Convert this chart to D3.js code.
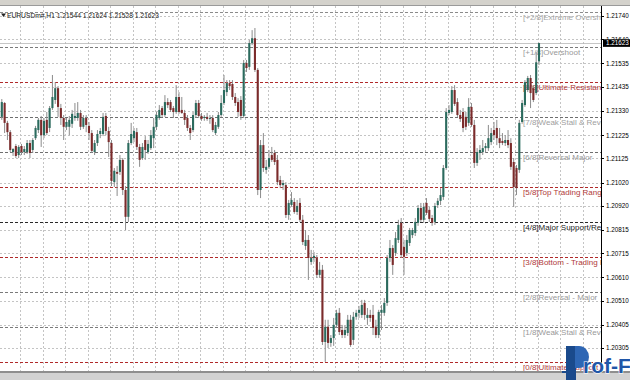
<!DOCTYPE html>
<html><head><meta charset="utf-8">
<script src="https://cdn.jsdelivr.net/npm/d3@7"></script>
<style>body{margin:0;background:#fff;overflow:hidden}svg{display:block}</style>
</head><body>
<svg id="c" width="630" height="380"></svg>
<script>
// ---------- DATA ----------
const symbolTitle = "EURUSDm#,H1";
const lastOHLC = [1.21544, 1.21624, 1.21528, 1.21623];
const bidPrice = 1.21623;

const opens = [
1.21304,1.21364,1.21278,1.21238,1.21152,1.21178,1.21139,1.21178,1.21152,1.21152,
1.21191,1.21161,1.21212,1.21247,1.21291,1.21225,1.21291,1.21256,1.21342,1.21377,
1.21428,1.21342,1.21299,1.21261,1.21261,1.21274,1.21299,1.21299,1.21321,1.21261,
1.21299,1.21265,1.21234,1.21152,1.21191,1.21230,1.21230,1.21308,1.21243,1.21191,
1.21022,1.21066,1.21066,1.21118,1.20988,1.20872,1.21191,1.21212,1.21238,1.21174,
1.21126,1.21204,1.21152,1.21169,1.21212,1.21261,1.21299,1.21342,1.21312,1.21368,
1.21368,1.21342,1.21325,1.21390,1.21334,1.21321,1.21299,1.21256,1.21247,1.21312,
1.21364,1.21308,1.21299,1.21304,1.21295,1.21299,1.21234,1.21261,1.21312,1.21364,
1.21411,1.21450,1.21446,1.21390,1.21368,1.21377,1.21308,1.21537,1.21520,1.21623,
1.21644,1.21507,1.20988,1.21182,1.21075,1.21088,1.21139,1.21148,1.21118,1.21031,
1.21009,1.21009,1.20880,1.20923,1.20936,1.20893,1.20932,1.20859,1.20746,1.20772,
1.20677,1.20694,1.20694,1.20621,1.20643,1.20331,1.20397,1.20327,1.20348,1.20405,
1.20457,1.20383,1.20361,1.20370,1.20427,1.20340,1.20440,1.20457,1.20448,1.20500,
1.20435,1.20448,1.20448,1.20397,1.20361,1.20457,1.20457,1.20500,1.20694,1.20737,
1.20716,1.20772,1.20846,1.20742,1.20716,1.20759,1.20793,1.20802,1.20846,1.20910,
1.20859,1.20932,1.20902,1.20867,1.20850,1.20923,1.20941,1.20958,1.21083,1.21321,
1.21325,1.21420,1.21368,1.21312,1.21325,1.21304,1.21278,1.21347,1.21269,1.21105,
1.21148,1.21152,1.21169,1.21169,1.21195,1.21247,1.21256,1.21212,1.21200,1.21191,
1.21204,1.21191,1.21109,1.21083,1.21075,1.21282,1.21355,1.21420,1.21472,1.21428,
1.21407,1.21544];
const highs = [
1.21381,1.21368,1.21287,1.21247,1.21169,1.21187,1.21182,1.21187,1.21178,1.21204,
1.21204,1.21212,1.21265,1.21299,1.21308,1.21299,1.21325,1.21351,1.21485,1.21454,
1.21437,1.21360,1.21312,1.21299,1.21308,1.21334,1.21364,1.21368,1.21334,1.21312,
1.21312,1.21282,1.21247,1.21204,1.21247,1.21256,1.21321,1.21321,1.21261,1.21204,
1.21083,1.21092,1.21139,1.21126,1.21005,1.21204,1.21278,1.21256,1.21256,1.21187,
1.21191,1.21221,1.21204,1.21247,1.21299,1.21325,1.21355,1.21351,1.21398,1.21385,
1.21377,1.21351,1.21441,1.21411,1.21390,1.21334,1.21312,1.21269,1.21325,1.21377,
1.21377,1.21321,1.21312,1.21321,1.21312,1.21312,1.21282,1.21325,1.21398,1.21485,
1.21463,1.21463,1.21463,1.21407,1.21385,1.21394,1.21550,1.21550,1.21636,1.21679,
1.21688,1.21515,1.21204,1.21234,1.21118,1.21161,1.21174,1.21161,1.21139,1.21049,
1.21031,1.21022,1.20945,1.20979,1.20953,1.20945,1.20953,1.20880,1.20815,1.20793,
1.20729,1.20720,1.20707,1.20677,1.20664,1.20427,1.20427,1.20361,1.20435,1.20470,
1.20478,1.20405,1.20401,1.20448,1.20448,1.20461,1.20470,1.20487,1.20513,1.20513,
1.20478,1.20470,1.20491,1.20427,1.20470,1.20491,1.20521,1.20707,1.20772,1.20750,
1.20806,1.20859,1.20867,1.20772,1.20793,1.20824,1.20824,1.20867,1.20923,1.20932,
1.20932,1.20953,1.20915,1.20880,1.20932,1.20953,1.20996,1.21096,1.21342,1.21355,
1.21437,1.21441,1.21385,1.21334,1.21342,1.21325,1.21385,1.21364,1.21291,1.21169,
1.21182,1.21204,1.21191,1.21269,1.21256,1.21282,1.21291,1.21256,1.21234,1.21225,
1.21247,1.21212,1.21126,1.21096,1.21291,1.21377,1.21463,1.21481,1.21485,1.21441,
1.21584,1.21624];
const lows = [
1.21291,1.21234,1.21204,1.21152,1.21135,1.21126,1.21126,1.21139,1.21139,1.21144,
1.21126,1.21148,1.21204,1.21234,1.21174,1.21212,1.21225,1.21238,1.21334,1.21360,
1.21304,1.21269,1.21204,1.21247,1.21225,1.21256,1.21287,1.21287,1.21247,1.21252,
1.21238,1.21204,1.21148,1.21139,1.21178,1.21212,1.21221,1.21225,1.21131,1.21005,
1.21001,1.20962,1.21053,1.20966,1.20815,1.20850,1.21182,1.21195,1.21161,1.21088,
1.21118,1.21118,1.21144,1.21161,1.21169,1.21247,1.21291,1.21304,1.21304,1.21342,
1.21325,1.21299,1.21317,1.21317,1.21317,1.21269,1.21243,1.21204,1.21238,1.21299,
1.21299,1.21287,1.21287,1.21287,1.21274,1.21238,1.21225,1.21252,1.21304,1.21355,
1.21394,1.21420,1.21377,1.21351,1.21304,1.21291,1.21299,1.21498,1.21507,1.21614,
1.21498,1.20966,1.20953,1.21066,1.21058,1.21079,1.21109,1.21096,1.21009,1.20996,
1.20988,1.20867,1.20859,1.20915,1.20885,1.20880,1.20850,1.20750,1.20729,1.20599,
1.20664,1.20677,1.20608,1.20608,1.20318,1.20245,1.20305,1.20310,1.20314,1.20392,
1.20361,1.20348,1.20348,1.20357,1.20310,1.20318,1.20427,1.20435,1.20435,1.20427,
1.20405,1.20418,1.20361,1.20348,1.20348,1.20383,1.20444,1.20487,1.20677,1.20621,
1.20703,1.20759,1.20694,1.20621,1.20703,1.20746,1.20780,1.20789,1.20833,1.20850,
1.20846,1.20880,1.20850,1.20833,1.20837,1.20910,1.20923,1.20945,1.21075,1.21312,
1.21317,1.21351,1.21304,1.21282,1.21238,1.21247,1.21265,1.21261,1.21083,1.21092,
1.21118,1.21139,1.21148,1.21157,1.21182,1.21204,1.21182,1.21169,1.21182,1.21178,
1.21169,1.21075,1.20915,1.20966,1.21062,1.21274,1.21347,1.21411,1.21342,1.21368,
1.21398,1.21528];
const closes = [
1.21368,1.21278,1.21238,1.21161,1.21165,1.21135,1.21174,1.21152,1.21165,1.21191,
1.21148,1.21204,1.21256,1.21291,1.21225,1.21287,1.21234,1.21342,1.21390,1.21428,
1.21347,1.21299,1.21261,1.21282,1.21291,1.21317,1.21308,1.21321,1.21261,1.21299,
1.21269,1.21234,1.21157,1.21191,1.21230,1.21243,1.21304,1.21243,1.21195,1.21027,
1.21071,1.21058,1.21118,1.20988,1.20872,1.21191,1.21230,1.21243,1.21174,1.21118,
1.21174,1.21161,1.21187,1.21225,1.21261,1.21312,1.21334,1.21312,1.21368,1.21355,
1.21334,1.21325,1.21390,1.21325,1.21321,1.21291,1.21256,1.21234,1.21312,1.21364,
1.21308,1.21295,1.21304,1.21295,1.21299,1.21247,1.21269,1.21312,1.21364,1.21420,
1.21450,1.21437,1.21390,1.21364,1.21325,1.21308,1.21537,1.21515,1.21623,1.21644,
1.21507,1.20988,1.21182,1.21083,1.21088,1.21126,1.21118,1.21109,1.21022,1.21009,
1.21018,1.20880,1.20932,1.20945,1.20893,1.20919,1.20859,1.20763,1.20772,1.20694,
1.20694,1.20703,1.20621,1.20643,1.20331,1.20397,1.20327,1.20348,1.20405,1.20457,
1.20374,1.20361,1.20383,1.20427,1.20318,1.20440,1.20457,1.20470,1.20491,1.20448,
1.20448,1.20435,1.20392,1.20361,1.20461,1.20470,1.20500,1.20694,1.20737,1.20664,
1.20780,1.20837,1.20707,1.20699,1.20772,1.20815,1.20815,1.20850,1.20910,1.20859,
1.20915,1.20889,1.20863,1.20846,1.20919,1.20941,1.20966,1.21083,1.21325,1.21334,
1.21420,1.21360,1.21312,1.21295,1.21256,1.21261,1.21347,1.21269,1.21105,1.21152,
1.21161,1.21169,1.21178,1.21212,1.21234,1.21225,1.21212,1.21191,1.21191,1.21204,
1.21182,1.21088,1.21001,1.20996,1.21278,1.21364,1.21454,1.21472,1.21407,1.21377,
1.21540,1.21623];

const priceTicks = [1.21740,1.21640,1.21535,1.21435,1.21330,1.21225,1.21125,1.21020,
                    1.20920,1.20815,1.20715,1.20610,1.20510,1.20405,1.20305];

const murreyLevels = [1.21759,1.21608,1.21456,1.21305,1.21154,1.21002,1.20851,1.20700,1.20549,1.20397,1.20246];
const murreyNames = ["[+2/8]Extreme Overshoot","[+1/8]Overshoot","[8/8]Ultimate Resistance",
  "[7/8]Weak Stall & Reverse","[6/8]Reversal Major","[5/8]Top Trading Range",
  "[4/8]Major Support/Resistance","[3/8]Bottom - Trading Range","[2/8]Reversal - Major",
  "[1/8]Weak Stall & Reverse","[0/8]Ultimate Support"];

// ---------- STYLE ----------
const levelLine = ["#8a8a8a","#7a7a7a","#b02a2a","#6e6e6e","#6e6e6e","#b02a2a","#2a2a2a","#b02a2a","#7a7a7a","#7a7a7a","#b02a2a"];
const levelText = ["#a6a6a6","#999999","#b03a3a","#a0a0a0","#999999","#b03a3a","#222222","#b03a3a","#999999","#999999","#b03a3a"];
const BULL = "#2b6b5e", BEAR = "#7b2b2b", WICK = "#8c8c8c";
const FONT = "'Liberation Sans', Arial, sans-serif";

// ---------- LAYOUT ----------
const plot = {left:0, right:601, top:6, bottom:372};
const svg = d3.select("#c");
svg.append("rect").attr("width",630).attr("height",380).attr("fill","#fff");
svg.append("defs").append("clipPath").attr("id","pc").append("rect")
  .attr("x",plot.left).attr("y",plot.top).attr("width",plot.right-plot.left).attr("height",plot.bottom-plot.top);

const N = opens.length;
const x = d3.scaleLinear().domain([0, N-1]).range([1.8, 539]);
const y = d3.scaleLinear().domain([1.20305, 1.21740]).range([348, 16]);

const g = svg.append("g").attr("clip-path","url(#pc)");

// horizontal grid
g.selectAll("line.hg").data(priceTicks).join("line").attr("class","hg")
  .attr("x1",plot.left).attr("x2",plot.right)
  .attr("y1",d=>Math.round(y(d))+0.5).attr("y2",d=>Math.round(y(d))+0.5)
  .attr("stroke","#c4c4c4").attr("stroke-dasharray","2,2");

// vertical grid: one line every 8 bars
const vIdx = d3.range(6.5, 260, 8).filter(i => x(i) < plot.right - 2);
g.selectAll("line.vg").data(vIdx).join("line").attr("class","vg")
  .attr("x1",d=>Math.round(x(d))+0.5).attr("x2",d=>Math.round(x(d))+0.5)
  .attr("y1",plot.top).attr("y2",plot.bottom)
  .attr("stroke","#c4c4c4").attr("stroke-dasharray","2,2");

// Murrey lines
g.selectAll("line.mm").data(murreyLevels).join("line").attr("class","mm")
  .attr("x1",plot.left).attr("x2",plot.right)
  .attr("y1",d=>Math.round(y(d))+0.5).attr("y2",d=>Math.round(y(d))+0.5)
  .attr("stroke",(d,i)=>levelLine[i]).attr("stroke-dasharray","3,2");

// bid line
g.append("line").attr("x1",plot.left).attr("x2",plot.right)
  .attr("y1",Math.round(y(bidPrice))+0.5).attr("y2",Math.round(y(bidPrice))+0.5)
  .attr("stroke","#b8b8b8").attr("stroke-width",0.8);

// Murrey labels (clipped at the price axis, as in the terminal)
g.selectAll("text.ml").data(murreyLevels).join("text").attr("class","ml")
  .attr("x",523).attr("y",d=>y(d)+8.2)
  .attr("font-family",FONT).attr("font-size",8).attr("fill",(d,i)=>levelText[i])
  .text((d,i)=>murreyNames[i]);

// candles
const idx = d3.range(N);
g.selectAll("line.wk").data(idx).join("line").attr("class","wk")
  .attr("x1",i=>x(i)).attr("x2",i=>x(i))
  .attr("y1",i=>y(highs[i])).attr("y2",i=>y(lows[i]))
  .attr("stroke",WICK).attr("stroke-width",1);
g.selectAll("rect.bd").data(idx).join("rect").attr("class","bd")
  .attr("x",i=>x(i)-1.05).attr("width",2.1)
  .attr("y",i=>y(Math.max(opens[i],closes[i])))
  .attr("height",i=>Math.max(0.8, Math.abs(y(opens[i])-y(closes[i]))))
  .attr("fill",i=>closes[i]>=opens[i]?BULL:BEAR);

// top bar & title
svg.append("rect").attr("x",0).attr("y",0).attr("width",630).attr("height",5).attr("fill","#d4d2cc");
svg.append("line").attr("x1",0).attr("x2",630).attr("y1",5.5).attr("y2",5.5).attr("stroke","#9a9a9a");
svg.append("path").attr("d","M1,13.5 L6,13.5 L3.5,17 Z").attr("fill","#222");
svg.append("text").attr("x",7).attr("y",18.3)
  .attr("font-family",FONT).attr("font-size",7).attr("fill","#1a1a1a")
  .attr("textLength",152).attr("lengthAdjust","spacingAndGlyphs")
  .text(symbolTitle+" "+lastOHLC.map(v=>v.toFixed(5)).join(" "));

// price axis
svg.append("line").attr("x1",601.5).attr("x2",601.5).attr("y1",plot.top).attr("y2",plot.bottom).attr("stroke","#000");
svg.selectAll("line.tk").data(priceTicks).join("line").attr("class","tk")
  .attr("x1",601.5).attr("x2",604).attr("y1",d=>Math.round(y(d))+0.5).attr("y2",d=>Math.round(y(d))+0.5)
  .attr("stroke","#000");
svg.selectAll("text.tl").data(priceTicks).join("text").attr("class","tl")
  .attr("x",606).attr("y",d=>y(d)+2.4)
  .attr("font-family",FONT).attr("font-size",6.3).attr("fill","#000")
  .text(d=>d.toFixed(5));

// bid box
const by = y(bidPrice);
svg.append("rect").attr("x",603).attr("y",by-3.8).attr("width",27).attr("height",7.6).attr("fill","#000");
svg.append("text").attr("x",606).attr("y",by+2.4)
  .attr("font-family",FONT).attr("font-size",6.3).attr("fill","#fff")
  .text(bidPrice.toFixed(5));

// bottom bar
svg.append("rect").attr("x",0).attr("y",371).attr("width",630).attr("height",2).attr("fill","#8e8e8e");
svg.append("rect").attr("x",0).attr("y",373).attr("width",630).attr("height",7).attr("fill","#d2d2d2");

// watermark logo
const logo = svg.append("g");
logo.append("rect").attr("x",566).attr("y",346).attr("width",10).attr("height",34).attr("fill","#1a4a8c");
logo.append("path").attr("d","M575,346 h4 a10,11 0 0 1 0,22 h-4 Z").attr("fill","#2e66b4");
logo.append("rect").attr("x",562).attr("y",371).attr("width",5).attr("height",2).attr("fill","#1a4a8c");
logo.append("text").attr("x",583).attr("y",373)
  .attr("font-family",FONT).attr("font-weight","bold").attr("font-size",21)
  .attr("fill","#1f56a8").attr("stroke","#ffffff").attr("stroke-width",1.2).attr("paint-order","stroke")
  .text("rof-FX");
</script>
</body></html>
